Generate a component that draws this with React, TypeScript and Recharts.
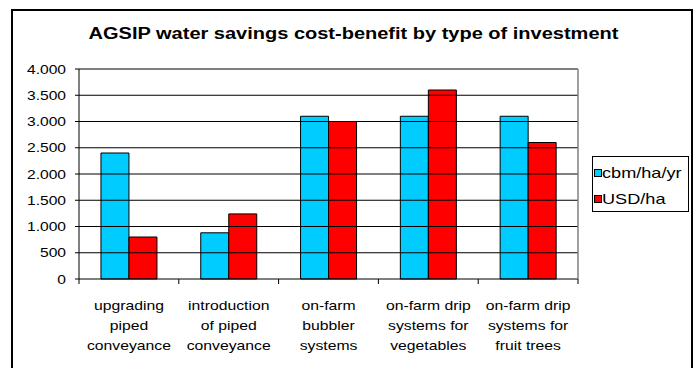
import { Bar, BarChart, Legend, ReferenceLine, XAxis, YAxis } from "recharts";

const categories = [
  "upgrading\npiped\nconveyance",
  "introduction\nof piped\nconveyance",
  "on-farm\nbubbler\nsystems",
  "on-farm drip\nsystems for\nvegetables",
  "on-farm drip\nsystems for\nfruit trees",
];
const cbmPerHaYr = [2400, 880, 3100, 3100, 3100];
const usdPerHa = [800, 1240, 3000, 3600, 2600];
const yTicks = [0, 500, 1000, 1500, 2000, 2500, 3000, 3500, 4000];

const data = categories.map((name, i) => ({
  name,
  cbm: cbmPerHaYr[i],
  usd: usdPerHa[i],
}));

const FONT = "'Liberation Sans', Arial, sans-serif";
const STRETCH = 1.25;
const BAND = 99.8;

const fmt = (v: number) => String(v).replace(/\B(?=(\d{3})+(?!\d))/g, ".");

function YTick(props: any) {
  const { x, y, payload } = props;
  return (
    <g transform={`translate(${x},${y}) scale(${STRETCH},1)`}>
      <text x={0} y={0} dy="0.36em" textAnchor="end" fontSize={12.5} fontFamily={FONT} fill="#000">
        {fmt(payload.value)}
      </text>
    </g>
  );
}

function XTick(props: any) {
  const { x, y, payload, index } = props;
  const lines = String(payload.value).split("\n");
  const last = index === categories.length - 1;
  return (
    <g>
      <line x1={x - BAND / 2} x2={x - BAND / 2} y1={y} y2={y + 5} stroke="#000" />
      {last && <line x1={x + BAND / 2} x2={x + BAND / 2} y1={y} y2={y + 5} stroke="#000" />}
      {/* plot area right border */}
      {last && <line x1={x + BAND / 2} x2={x + BAND / 2} y1={y} y2={y - 210} stroke="#808080" strokeWidth={1.5} />}
      <g transform={`translate(${x},${y}) scale(${STRETCH},1)`}>
        {lines.map((l, i) => (
          <text key={i} x={0} y={31 + i * 20} textAnchor="middle" fontSize={12.6} fontFamily={FONT} fill="#000">
            {l}
          </text>
        ))}
      </g>
    </g>
  );
}

function LegendBox() {
  const items = [
    { label: "cbm/ha/yr", color: "#00CCFF" },
    { label: "USD/ha", color: "#FF0000" },
  ];
  return (
    <div
      style={{
        width: 97,
        height: 56,
        border: "1px solid #000",
        background: "#fff",
        boxSizing: "border-box",
        paddingTop: 5,
      }}
    >
      {items.map((it) => (
        <div key={it.label} style={{ display: "flex", alignItems: "center", height: 22, marginBottom: 4 }}>
          <svg width={9} height={10}>
            <rect x={1.5} y={1.5} width={7} height={7} fill={it.color} stroke="#000" />
          </svg>
          <span
            style={{
              display: "inline-block",
              fontFamily: FONT,
              fontSize: 14.5,
              lineHeight: "22px",
              transform: `scaleX(${STRETCH})`,
              transformOrigin: "left center",
              whiteSpace: "nowrap",
            }}
          >
            {it.label}
          </span>
        </div>
      ))}
    </div>
  );
}

export default function App() {
  return (
    <div style={{ position: "absolute", left: 0, top: 0, width: 697, height: 368, background: "#fff", overflow: "hidden" }}>
      <div
        style={{
          position: "absolute",
          left: 11,
          top: 9,
          width: 678,
          height: 380,
          border: "2px solid #000",
        }}
      />
      <div
        style={{
          position: "absolute",
          left: 4.5,
          top: 25.5,
          width: 697,
          textAlign: "center",
          fontFamily: FONT,
          fontWeight: "bold",
          fontSize: 16,
          lineHeight: "16px",
          transform: `scaleX(${STRETCH})`,
          transformOrigin: "center",
          whiteSpace: "nowrap",
        }}
      >
        AGSIP water savings cost-benefit by type of investment
      </div>
      <div style={{ position: "absolute", left: 0, top: 0 }}>
        <BarChart
          width={697}
          height={368}
          data={data}
          margin={{ top: 69, right: 119, bottom: 19, left: 19 }}
          barCategoryGap="22%"
          barGap={0}
        >
          <XAxis
            dataKey="name"
            height={70}
            interval={0}
            axisLine={{ stroke: "#000" }}
            tickLine={false}
            tickSize={0}
            tickMargin={0}
            tick={<XTick />}
          />
          <YAxis
            width={60}
            domain={[0, 4000]}
            ticks={yTicks}
            interval={0}
            axisLine={{ stroke: "#000" }}
            tickLine={{ stroke: "#000" }}
            tickSize={4}
            tickMargin={9}
            tick={<YTick />}
          />
          {yTicks.slice(1).map((t) => (
            <ReferenceLine key={t} y={t} stroke="#000" strokeWidth={1} />
          ))}
          <Legend
            layout="vertical"
            align="center"
            verticalAlign="middle"
            content={<LegendBox />}
            wrapperStyle={{ position: "absolute", left: 592, top: 156, width: 97, height: 56 }}
          />
          <Bar dataKey="cbm" name="cbm/ha/yr" fill="#00CCFF" stroke="#000" strokeWidth={1} isAnimationActive={false} />
          <Bar dataKey="usd" name="USD/ha" fill="#FF0000" stroke="#000" strokeWidth={1} isAnimationActive={false} />
        </BarChart>
      </div>
    </div>
  );
}
